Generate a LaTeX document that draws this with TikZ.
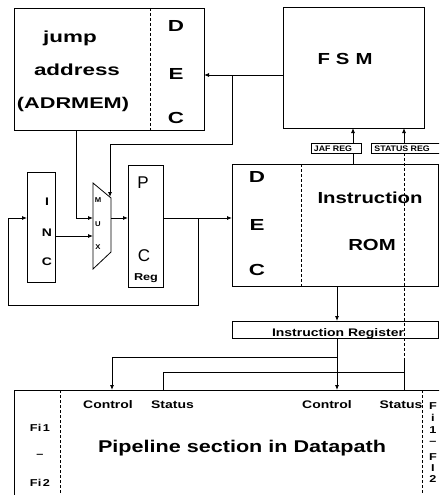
\documentclass[tikz,border=0pt]{standalone}
\usepackage{fontspec}
\setmainfont{Liberation Sans}
\newfontfamily\fA{Liberation Sans Bold}[FakeStretch=1.4]
\newfontfamily\fB{Liberation Sans Bold}[FakeStretch=1.27]
\newfontfamily\fC{Liberation Sans Bold}[FakeStretch=1.1]
\usetikzlibrary{arrows.meta}
\begin{document}
\begin{tikzpicture}[x=1pt,y=-1pt,line width=0.8pt,
  box/.style={draw,rectangle,inner sep=0pt,outer sep=0pt},
  arr/.style={-{Latex[length=5pt,width=4pt]}},
  dsh/.style={dash pattern=on 3pt off 2pt},
  t/.style={inner sep=0pt,anchor=base},
  big/.style={t,font=\fA\fontsize{16}{19}\selectfont},
  bigb/.style={t,font=\fB\fontsize{16}{19}\selectfont},
  mid/.style={t,font=\fB\fontsize{11}{13}\selectfont},
  sml/.style={t,font=\fB\fontsize{10}{12}\selectfont},
  tiny/.style={t,font=\fC\fontsize{8}{10}\selectfont},
  reg/.style={t,font=\fontsize{17}{20}\selectfont}]
\useasboundingbox (0,0) rectangle (439,495);
\clip (0,0) rectangle (439,495);

% boxes
\node[box,minimum width=190pt,minimum height=122pt] (jump) at (109,69) {};
\node[box,minimum width=141pt,minimum height=121pt] (fsm) at (353.5,67.5) {};
\node[box,minimum width=28pt,minimum height=110pt] (inc) at (41,227) {};
\node[box,minimum width=35pt,minimum height=122pt] (pc) at (145.5,226) {};
\node[box,minimum width=206pt,minimum height=122pt] (rom) at (335,225) {};
\node[box,minimum width=50pt,minimum height=10pt] (jaf) at (336,148) {};
\node[box,minimum width=90pt,minimum height=10pt] (streg) at (416,148) {};
\node[box,minimum width=206pt,minimum height=17pt] (ir) at (335,329.5) {};
\node[box,minimum width=450pt,minimum height=130pt] (pipe) at (239,455) {};
\draw (93,183) coordinate (mA) -- (111,198) coordinate (mB) -- (111,252) coordinate (mC) -- (93,269) coordinate (mD) -- cycle;

% dividers
\draw[dsh] (jump.north -| 150,0) -- (jump.south -| 150,0);
\draw[dsh] (rom.north -| 301,0) -- (rom.south -| 301,0);
\draw[dsh] (pipe.north -| 60,0) -- (pipe.south -| 60,0);
\draw[dsh] (pipe.north -| 422,0) -- (pipe.south -| 422,0);

% texts
\node[big] (tj1) at (70,43) {jump};
\node[big] (tj2) at (77,75) {address};
\node[big,font=\fA\fontsize{15.5}{19}\selectfont] (tj3) at (73,108) {(ADRMEM)};
\node[big] (jd) at (176,32) {D};
\node[big] (je) at (176,80) {E};
\node[big] (jc) at (176,123) {C};
\node[bigb] (tfsm) at (345,65) {F\hspace{6pt}S\hspace{6pt}M};
\node[big] (rd) at (257,182) {D};
\node[big] (re) at (257,230) {E};
\node[big] (rc) at (257,275) {C};
\node[bigb] (rins) at (370,203) {Instruction};
\node[bigb] (rrom) at (372,250) {ROM};
\node[mid] (ii) at (47,205) {I};
\node[mid] (in) at (47,236) {N};
\node[mid] (ic) at (47,265) {C};
\node[reg] (pp) at (143,188) {P};
\node[reg] (pcc) at (144,261) {C};
\node[sml] (preg) at (146,280) {Reg};
\node[t,font=\fC\fontsize{7}{8}\selectfont] (mm) at (98,202) {M};
\node[t,font=\fC\fontsize{7}{8}\selectfont] (mu) at (98,226) {U};
\node[t,font=\fC\fontsize{7}{8}\selectfont] (mx) at (98,249) {X};
\node[tiny] (tjaf) at (333,151.5) {JAF REG};
\node[tiny,anchor=base west] (tst) at (374,151.5) {STATUS REG};
\node[mid] (tir) at (338,336.5) {Instruction Register};
\node[mid] (c1) at (108,408) {Control};
\node[mid] (s1) at (172.5,408) {Status};
\node[mid] (c2) at (327,408) {Control};
\node[mid] (s2) at (401,408) {Status};
\node[t,font=\fB\fontsize{17}{20}\selectfont] (title) at (242,452) {Pipeline section in Datapath};
\node[sml] (f1) at (40,431) {Fi\,1};
\node[sml] (fd) at (40,457) {–};
\node[sml] (f2) at (40,486) {Fi\,2};
\node[sml] (r1) at (433,409) {F};
\node[sml] (r2) at (433,421) {i};
\node[sml] (r3) at (433,433) {1};
\node[sml] (r4) at (433,444) {–};
\node[sml] (r5) at (433,460) {F};
\node[sml] (r6) at (433,471) {I};
\node[sml] (r7) at (433,482) {2};

% connectors
\coordinate (j1) at (232,75);
\draw[arr] (fsm.west |- j1) -- (jump.east |- j1);
\coordinate (j2) at (110,144);
\coordinate (muxtop) at (110,197);
\draw[arr] (j1) |- (j2) -- (muxtop);
\coordinate (muxin1) at (93,218);
\coordinate (muxin2) at (93,236);
\coordinate (muxout) at (111,218);
\draw[arr] (jump.south -| 76,0) |- (muxin1);
\draw[arr] (inc.east |- muxin2) -- (muxin2);
\draw[arr] (muxout) -- (pc.west |- muxout);
\draw[arr] (pc.east |- muxout) -- (rom.west |- muxout);
\coordinate (j3) at (198,218);
\coordinate (j4) at (8,305);
\draw[arr] (j3) |- (j4) |- (inc.west |- muxout);

\draw (rom.north -| 353,0) -- (jaf.south -| 353,0);
\draw[arr] (jaf.north -| 353,0) -- (fsm.south -| 353,0);
\draw[arr] (streg.north -| 404,0) -- (fsm.south -| 404,0);
\coordinate (j9) at (404,358);
\draw[dsh] (streg.south -| j9) -- (j9);
\draw (j9) -- (pipe.north -| j9);
\coordinate (j5) at (404,372);
\coordinate (j6) at (163,372);
\draw (j5) -- (j6) -- (pipe.north -| j6);
\draw[arr] (rom.south -| 337,0) -- (ir.north -| 337,0);
\draw[arr] (ir.south -| 337,0) -- (pipe.north -| 337,0);
\coordinate (j7) at (337,357);
\coordinate (j8) at (112,357);
\draw[arr] (j7) -- (j8) -- (pipe.north -| j8);
\end{tikzpicture}
\end{document}
